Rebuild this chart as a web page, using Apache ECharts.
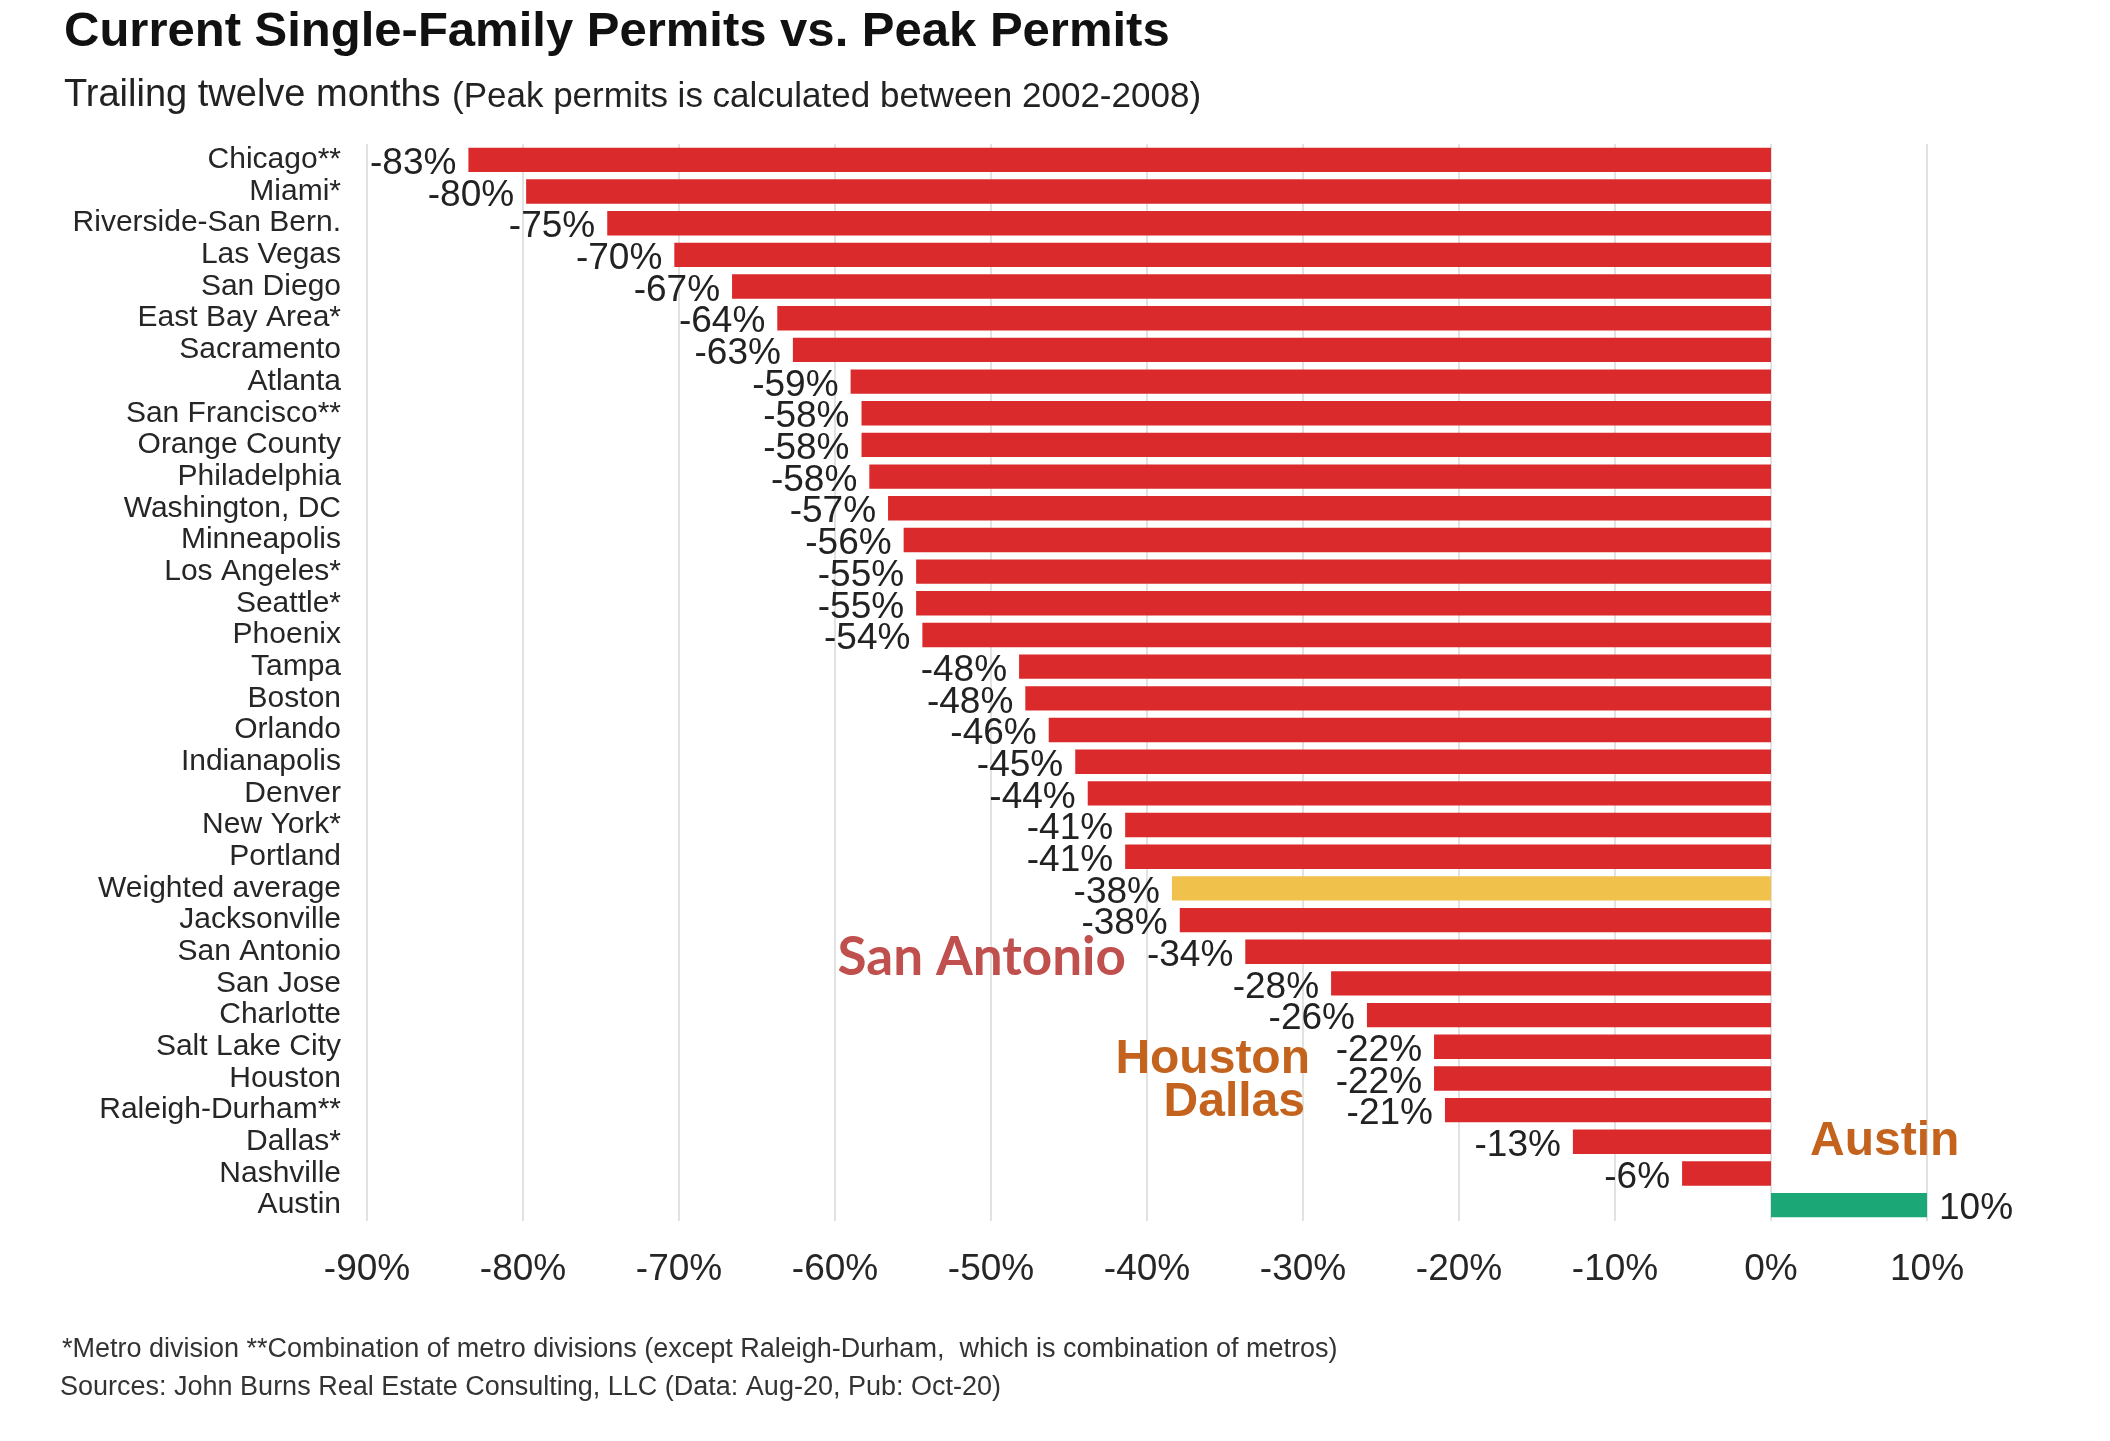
<!DOCTYPE html>
<html>
<head>
<meta charset="utf-8">
<script src="https://cdn.jsdelivr.net/npm/echarts@6/dist/echarts.min.js"></script>
<style>
  html, body { margin: 0; padding: 0; background: #ffffff; }
  #chart { width: 2110px; height: 1441px; }
</style>
</head>
<body>
<div id="chart"></div>
<script>
// ---- data ----
const categories = [
  'Chicago**', 'Miami*', 'Riverside-San Bern.', 'Las Vegas', 'San Diego', 'East Bay Area*',
  'Sacramento', 'Atlanta', 'San Francisco**', 'Orange County', 'Philadelphia', 'Washington, DC',
  'Minneapolis', 'Los Angeles*', 'Seattle*', 'Phoenix', 'Tampa', 'Boston', 'Orlando',
  'Indianapolis', 'Denver', 'New York*', 'Portland', 'Weighted average', 'Jacksonville',
  'San Antonio', 'San Jose', 'Charlotte', 'Salt Lake City', 'Houston', 'Raleigh-Durham**',
  'Dallas*', 'Nashville', 'Austin'
];
const changePct = [
  -83.5, -79.8, -74.6, -70.3, -66.6, -63.7,
  -62.7, -59.0, -58.3, -58.3, -57.8, -56.6,
  -55.6, -54.8, -54.8, -54.4, -48.2, -47.8, -46.3,
  -44.6, -43.8, -41.4, -41.4, -38.4, -37.9,
  -33.7, -28.2, -25.9, -21.6, -21.6, -20.9,
  -12.7, -5.7, 10.0
];
const highlightCategory = 'Weighted average';
const xTicks = { min: -90, max: 10, step: 10 };

const titleText = 'Current Single-Family Permits vs. Peak Permits';
const subtitleMain = 'Trailing twelve months';
const subtitleNote = '(Peak permits is calculated between 2002-2008)';
const footnote1 = '*Metro division **Combination of metro divisions (except Raleigh-Durham,  which is combination of metros)';
const footnote2 = 'Sources: John Burns Real Estate Consulting, LLC (Data: Aug-20, Pub: Oct-20)';
const annotations = ['San Antonio', 'Houston', 'Dallas', 'Austin'];

// ---- styles ----
const RED = '#DA2A2B';
const GOLD = '#F0C24B';
const GREEN = '#1BA876';
const FONT = "'Liberation Sans', Arial, Helvetica, sans-serif";

const barData = changePct.map((v, i) => ({
  value: v,
  itemStyle: { color: categories[i] === highlightCategory ? GOLD : (v >= 0 ? GREEN : RED) },
  label: { position: v >= 0 ? 'right' : 'left' }
}));

function txt(text, x, y, font, fill, align) {
  return {
    type: 'text', x: x, y: y, silent: true, z: 100,
    style: {
      text: text, font: font, fill: fill,
      textAlign: align || 'left', align: align || 'left',
      textVerticalAlign: 'middle', verticalAlign: 'middle'
    }
  };
}

const chart = echarts.init(document.getElementById('chart'), null, { renderer: 'canvas' });
chart.setOption({
  backgroundColor: '#ffffff',
  animation: false,
  grid: { left: 367, right: 183, top: 144, bottom: 220, containLabel: false },
  xAxis: {
    type: 'value',
    min: xTicks.min, max: xTicks.max, interval: xTicks.step,
    axisLine: { show: false },
    axisTick: { show: false },
    splitLine: { show: true, lineStyle: { color: '#D9D9D9', width: 1.5 } },
    axisLabel: {
      formatter: '{value}%', fontSize: 37, color: '#262626', margin: 30, fontFamily: FONT
    }
  },
  yAxis: {
    type: 'category',
    data: categories,
    inverse: true,
    axisLine: { show: false },
    axisTick: { show: false },
    axisLabel: { interval: 0, fontSize: 30, color: '#262626', margin: 26, fontFamily: FONT }
  },
  series: [{
    type: 'bar',
    data: barData,
    barCategoryGap: '23%',
    label: {
      show: true,
      distance: 12,
      offset: [0, 4],
      fontSize: 37,
      color: '#222222',
      fontFamily: FONT,
      formatter: p => Math.round(p.value) + '%'
    }
  }],
  graphic: [
    txt(titleText, 64, 32, 'bold 49px ' + FONT, '#111111'),
    txt(subtitleMain, 64, 96, '38px ' + FONT, '#222222'),
    txt(subtitleNote, 452, 97, '35px ' + FONT, '#222222'),
    txt(footnote1, 62, 1350, '27px ' + FONT, '#333333'),
    txt(footnote2, 60, 1388, '27px ' + FONT, '#333333'),
    txt(annotations[0], 1126, 958, 'bold 53px Lato, ' + FONT, '#C0504D', 'right'),
    txt(annotations[1], 1310, 1060, 'bold 48px ' + FONT, '#C3631E', 'right'),
    txt(annotations[2], 1305, 1103, 'bold 48px ' + FONT, '#C3631E', 'right'),
    txt(annotations[3], 1810, 1142, 'bold 48px ' + FONT, '#C3631E', 'left')
  ]
});
</script>
</body>
</html>
